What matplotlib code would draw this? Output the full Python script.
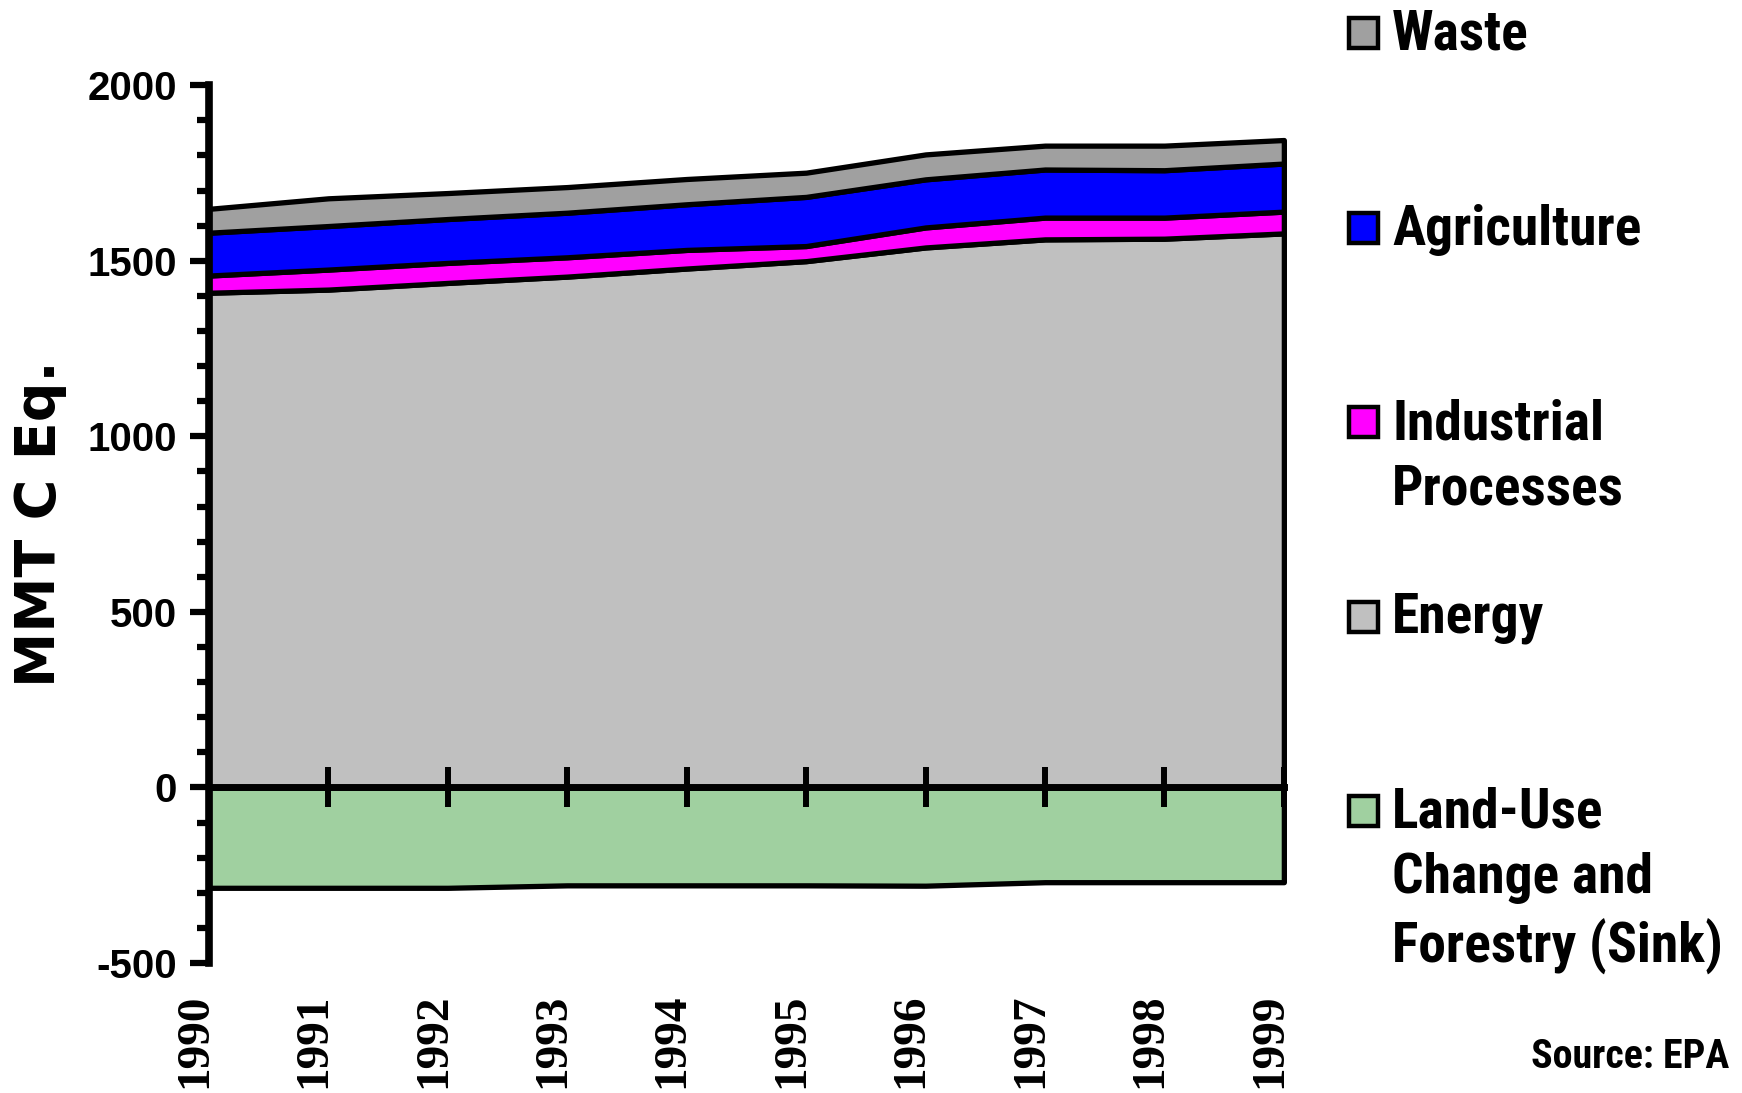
import matplotlib
matplotlib.use('Agg')
import matplotlib.pyplot as plt
from matplotlib import font_manager
from matplotlib.patches import Rectangle
from matplotlib.ticker import MultipleLocator
from matplotlib.transforms import ScaledTranslation

plt.rcParams['axes.unicode_minus'] = False

years = [1990, 1991, 1992, 1993, 1994, 1995, 1996, 1997, 1998, 1999]
# layer values in MMT C Eq.
energy = [1409, 1418, 1437, 1455, 1478, 1499, 1538, 1561, 1563, 1578]
industrial = [49, 57, 57, 55, 53, 43, 57, 62, 60, 62]
agriculture = [122, 124, 125, 127, 130, 140, 137, 137, 135, 137]
waste = [68, 79, 74, 73, 72, 69, 71, 68, 70, 67]
lucf = [-286, -286, -286, -279, -279, -279, -280, -270, -270, -270]

labels = ['Waste', 'Agriculture', 'Industrial\nProcesses', 'Energy',
          'Land-Use\nChange and\nForestry (Sink)']
colors = ['#a0a0a0', '#0000ff', '#ff00ff', '#c0c0c0', '#a0d0a0']

# look for a narrow bold sans for the legend; fall back to a smaller Liberation Sans
fonts = font_manager.fontManager.ttflist
narrow = None
for f in fonts:
    if f.name in ('Liberation Sans Narrow', 'Roboto Condensed', 'Open Sans Condensed'):
        narrow = dict(fontfamily=f.name, fontsize=40)
        break
if narrow is None:
    for f in fonts:
        if f.name == 'DejaVu Sans' and f.stretch in ('condensed', 'semi-condensed') \
                and f.weight in ('bold', 700):
            narrow = dict(fontfamily='DejaVu Sans', fontstretch='condensed', fontsize=38)
            break
if narrow is None:
    narrow = dict(fontfamily='Liberation Sans', fontsize=35)
leg_size = narrow.pop('fontsize')

fig = plt.figure(figsize=(17.42, 10.93), dpi=100)
ax = fig.add_axes([0.12, 0.119, 0.617, 0.803])

# stacked positive layers, bottom to top
polys = ax.stackplot(years, energy, industrial, agriculture, waste,
                     colors=['#c0c0c0', '#ff00ff', '#0000ff', '#a0a0a0'],
                     edgecolor='black', linewidth=3.8)
for p in polys:
    p.set_clip_on(False)
sink = ax.fill_between(years, 0, lucf, facecolor='#a0d0a0', edgecolor='black',
                       linewidth=3.8)
sink.set_clip_on(False)

ax.set_xlim(1990, 1999)
ax.set_ylim(-500, 2000)

ax.spines['top'].set_visible(False)
ax.spines['right'].set_visible(False)
ax.spines['left'].set_linewidth(5.5)
ax.spines['bottom'].set_position(('data', 0))
ax.spines['bottom'].set_linewidth(5)
ax.spines['bottom'].set_zorder(5)

ax.yaxis.set_major_locator(MultipleLocator(500))
ax.yaxis.set_minor_locator(MultipleLocator(100))
ax.tick_params(axis='y', which='major', direction='out', length=14, width=4.5,
               pad=9)
ax.tick_params(axis='y', which='minor', direction='out', length=9, width=4.5)
for t in ax.get_yticklabels():
    t.set_fontfamily('Liberation Sans')
    t.set_fontweight('bold')
    t.set_fontsize(29)

ax.set_xticks(years[1:])
ax.set_xticklabels([])
ax.tick_params(axis='x', which='major', direction='inout', length=29, width=4.3)

sec = ax.secondary_xaxis('bottom')
sec.set_xticks(years)
sec.set_xticklabels([str(y) for y in years], rotation=90,
                    fontfamily='Liberation Serif', fontweight='bold', fontsize=34)
sec.tick_params(length=0, pad=22)
sec.spines['bottom'].set_visible(False)
shift = ScaledTranslation(-0.14, 0, fig.dpi_scale_trans)
for t in sec.get_xticklabels():
    t.set_transform(t.get_transform() + shift)

ax.set_ylabel('MMT C Eq.', fontfamily='DejaVu Sans', fontweight='bold',
              fontsize=40)
ax.yaxis.set_label_coords(-0.132, 0.5)

# legend drawn by hand, one entry every ~194 px
for i, (lab, col) in enumerate(zip(labels, colors)):
    yc = 1 - (33 + i * 194.5) / 1093
    fig.add_artist(Rectangle((1349 / 1742, yc - 15 / 1093), 29 / 1742, 30 / 1093,
                             facecolor=col, edgecolor='black', linewidth=3.2,
                             transform=fig.transFigure))
    fig.text(1392 / 1742, yc + 24 / 1093, lab, ha='left', va='top',
             fontweight='bold', fontsize=leg_size, linespacing=1.32, **narrow)

fig.text(1729 / 1742, 1 - 1057 / 1093, 'Source: EPA', ha='right', va='center',
         fontweight='bold', fontsize=leg_size * 0.72, **narrow)

fig.savefig('out.png', dpi=100)
